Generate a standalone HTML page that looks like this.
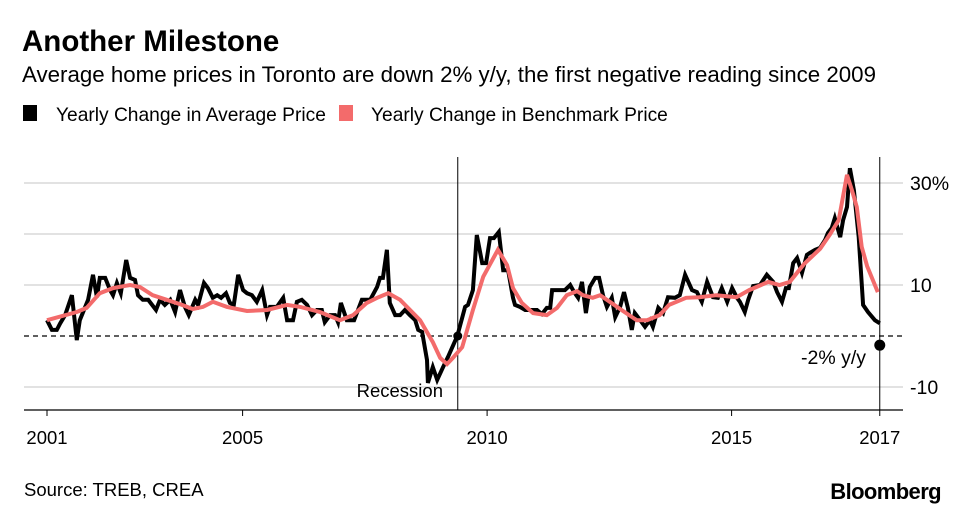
<!DOCTYPE html>
<html><head><meta charset="utf-8"><style>
body{margin:0;background:#fff;font-family:"Liberation Sans",sans-serif;}
#wrap{position:relative;width:977px;height:516px;overflow:hidden;}
svg text{font-family:"Liberation Sans",sans-serif;}
</style></head><body>
<div id="wrap">
<svg id="chart" width="977" height="516">
<text x="22" y="51" font-size="29.5" font-weight="bold" fill="#000">Another Milestone</text>
<text x="22" y="82" font-size="22.3" fill="#000">Average home prices in Toronto are down 2% y/y, the first negative reading since 2009</text>
<rect x="23" y="105" width="14" height="16" fill="#000"/>
<text x="56" y="121" font-size="19.2">Yearly Change in Average Price</text>
<rect x="339" y="105" width="14" height="16" fill="#f36b6b"/>
<text x="371" y="121" font-size="19.2">Yearly Change in Benchmark Price</text>
<g id="grid"></g><g id="series"></g><g id="annot"></g>
<text x="24" y="496" font-size="18.5">Source: TREB, CREA</text>
<text x="941" y="499" font-size="22" font-weight="bold" text-anchor="end" letter-spacing="-0.6">Bloomberg</text>
</svg></div>
<script>
const yTicks=[30,20,10,0,-10];
const yTickLabels=["30%","","10","","-10"];
const xTicks=[2001,2005,2010,2015];
const avgDates=[2001.00,2001.10,2001.20,2001.27,2001.37,2001.51,2001.61,2001.67,2001.84,2001.94,2002.02,2002.08,2002.19,2002.29,2002.35,2002.43,2002.51,2002.62,2002.70,2002.80,2002.86,2002.96,2003.07,2003.23,2003.31,2003.41,2003.52,2003.62,2003.72,2003.82,2003.90,2004.03,2004.09,2004.21,2004.29,2004.39,2004.48,2004.56,2004.66,2004.74,2004.82,2004.91,2005.01,2005.09,2005.19,2005.29,2005.40,2005.50,2005.56,2005.70,2005.83,2005.91,2006.03,2006.11,2006.21,2006.32,2006.42,2006.52,2006.62,2006.68,2006.79,2006.89,2006.95,2007.01,2007.13,2007.28,2007.44,2007.61,2007.75,2007.81,2007.87,2007.95,2008.01,2008.12,2008.22,2008.32,2008.42,2008.53,2008.59,2008.67,2008.77,2008.79,2008.89,2008.98,2009.10,2009.20,2009.39,2009.55,2009.61,2009.71,2009.79,2009.90,2009.98,2010.06,2010.14,2010.24,2010.33,2010.43,2010.53,2010.57,2010.67,2010.78,2010.92,2011.02,2011.12,2011.22,2011.29,2011.33,2011.59,2011.70,2011.78,2011.86,2011.94,2012.02,2012.10,2012.21,2012.29,2012.37,2012.45,2012.55,2012.62,2012.72,2012.80,2012.88,2012.96,2013.02,2013.13,2013.23,2013.33,2013.39,2013.50,2013.60,2013.70,2013.84,2013.94,2014.05,2014.19,2014.29,2014.39,2014.50,2014.62,2014.72,2014.80,2014.91,2015.01,2015.11,2015.17,2015.27,2015.34,2015.44,2015.58,2015.72,2015.85,2015.93,2016.03,2016.11,2016.17,2016.26,2016.34,2016.44,2016.54,2016.60,2016.71,2016.81,2016.91,2016.97,2017.05,2017.11,2017.22,2017.28,2017.36,2017.42,2017.50,2017.60,2017.69,2017.79,2017.93,2018.03];
const avgValues=[3.1,1.2,1.2,2.5,4.1,8.0,-0.8,3.1,7.1,12.0,7.6,11.4,11.4,9.0,8.0,10.4,8.4,14.9,11.4,11.0,8.0,7.1,7.1,5.1,7.1,6.1,7.1,4.7,9.0,5.7,4.1,7.1,6.1,10.4,9.4,7.5,8.0,7.5,8.4,6.5,6.1,12.0,9.0,8.4,8.0,6.7,9.0,4.1,5.7,5.7,7.5,3.1,3.1,6.7,7.1,6.1,4.1,5.1,5.1,2.7,4.1,4.1,2.7,6.5,3.1,3.1,7.1,7.1,9.6,11.4,11.4,16.9,6.5,4.1,4.1,5.1,4.1,3.1,1.2,0.8,-4.7,-9.2,-6.1,-8.6,-6.1,-4.1,0,5.7,6.1,9.0,19.8,14.3,14.3,19.2,19.2,20.4,12.9,12.9,7.5,6.1,5.7,5.1,5.1,5.1,4.3,5.5,5.5,9.0,9.0,10.0,8.6,7.5,10.6,4.5,9.6,11.4,11.4,8.0,5.7,7.5,3.7,5.7,8.6,5.5,1.2,4.5,3.1,1.8,3.1,1.8,5.5,4.5,7.6,7.5,8.0,12.0,9.0,8.6,6.7,10.6,7.6,7.5,9.4,6.7,9.4,7.5,6.7,4.7,7.1,9.8,10.0,12.0,10.6,8.6,6.7,9.4,9.4,14.3,15.3,12.4,15.9,16.3,16.9,17.3,18.8,20.2,21.2,23.1,19.4,22.7,25.3,32.9,28.6,19.4,6.1,4.7,3.1,2.5,-1.8];
const benchDates=[2001.00,2001.61,2001.81,2002.08,2002.35,2002.70,2002.90,2003.16,2003.45,2003.76,2003.98,2004.19,2004.39,2004.68,2005.09,2005.50,2005.91,2006.18,2006.58,2006.99,2007.26,2007.54,2007.75,2007.98,2008.22,2008.63,2008.89,2009.04,2009.18,2009.30,2009.49,2009.71,2009.92,2010.22,2010.41,2010.53,2010.71,2010.94,2011.22,2011.43,2011.63,2011.84,2011.96,2012.16,2012.31,2012.51,2012.78,2013.06,2013.27,2013.53,2013.72,2014.07,2014.34,2014.69,2015.10,2015.36,2015.75,2015.98,2016.19,2016.48,2016.81,2017.01,2017.19,2017.36,2017.46,2017.56,2017.66,2017.77,2017.99];
const benchValues=[3.1,4.7,5.5,8.4,9.4,10.0,9.6,8.0,7.1,6.1,5.3,5.7,6.7,5.7,4.9,5.1,6.1,5.7,4.7,3.1,4.1,6.5,7.5,8.4,7.1,3.1,-1.2,-4.3,-5.5,-4.3,-2.2,5.1,11.6,16.9,13.9,9.4,6.5,4.5,4.1,5.5,8.0,8.8,8.0,7.5,8.0,6.7,4.9,3.1,3.1,4.1,6.1,7.5,7.6,8.0,7.6,9.0,10.6,10.0,10.6,14.1,17.1,19.9,22.7,31.6,28.6,25.3,17.5,13.7,8.6];
const recessionEnd=2009.40;
const lastValue=-1.8, lastDate=2018.03;

const ns="http://www.w3.org/2000/svg";
const x=d=>47+(d-2001)*48.9;
const y=v=>336-v*5.1;
function mk(tag,attrs,parent){const e=document.createElementNS(ns,tag);for(const k in attrs)e.setAttribute(k,attrs[k]);parent.appendChild(e);return e;}
const grid=document.getElementById('grid'),series=document.getElementById('series'),annot=document.getElementById('annot');
yTicks.forEach((t,i)=>{
  const l=mk('line',{x1:24,x2:903,y1:y(t),y2:y(t),stroke:t===0?'#000':'#d9d9d9','stroke-width':t===0?1.3:1.5},grid);
  if(t===0)l.setAttribute('stroke-dasharray','5,4');
  
  
  if(yTickLabels[i]){const tx=mk('text',{x:910,y:y(t)+7,'font-size':19.5},grid);tx.textContent=yTickLabels[i];
  
  }
});
const ax=mk('line',{x1:24,x2:903,y1:410,y2:410,stroke:'#000','stroke-width':1.2},grid);


const tickList=xTicks.map(t=>[t,String(t)]).concat([[lastDate,'2017']]);
tickList.forEach(([t,lab])=>{
  const tk=mk('line',{x1:x(t),x2:x(t),y1:410,y2:416,stroke:'#000','stroke-width':1},grid);
  
  
  const tx=mk('text',{x:x(t),y:444,'font-size':18.5,'text-anchor':'middle'},grid);tx.textContent=lab;
  
  
});
[recessionEnd,lastDate].forEach(d=>{
  const vl=mk('line',{x1:x(d),x2:x(d),y1:157,y2:410,stroke:'#000','stroke-width':1},grid);
  
  
});
function path(ds,vs,color,w,name){
  const p=mk('path',{d:ds.map((d,i)=>(i?'L':'M')+x(d).toFixed(1)+','+y(vs[i]).toFixed(1)).join(''),fill:'none',stroke:color,'stroke-width':w,'stroke-linejoin':'miter'},series);
  
  
}
path(avgDates,avgValues,'#000',4,'average-price-line');
path(benchDates,benchValues,'#f36b6b',4,'benchmark-price-line');
const d1=mk('circle',{cx:x(recessionEnd),cy:y(0),r:4.5,fill:'#000'},annot);


const d2=mk('circle',{cx:x(lastDate),cy:y(lastValue),r:5.5,fill:'#000'},annot);


const t1=mk('text',{x:443,y:397,'font-size':18.5,'text-anchor':'end'},annot);t1.textContent='Recession';


const t2=mk('text',{x:866,y:364,'font-size':19.5,'text-anchor':'end'},annot);t2.textContent='-2% y/y';


</script>
</body></html>
